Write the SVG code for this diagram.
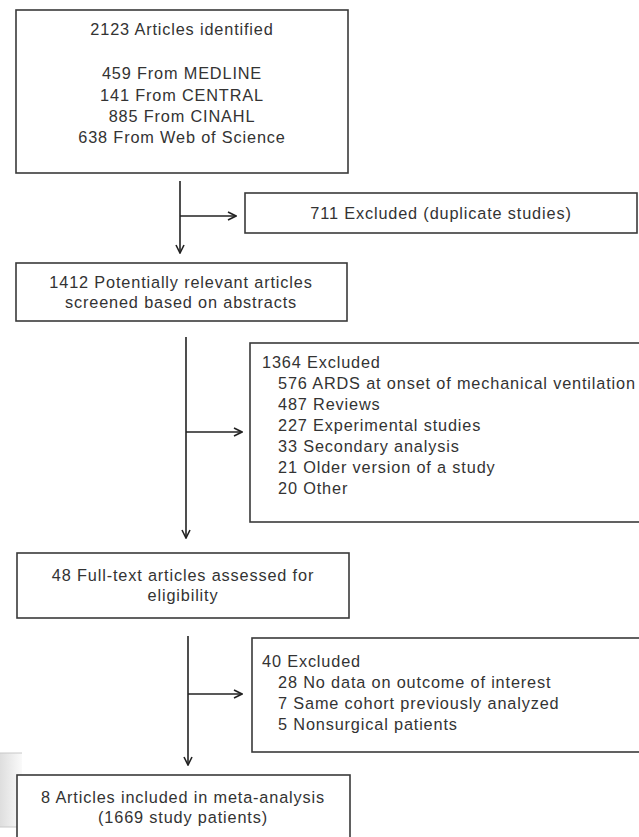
<svg xmlns="http://www.w3.org/2000/svg" width="639" height="837" viewBox="0 0 639 837">
<style>
.box{fill:#fff;stroke:#3a3a3a;stroke-width:1.6}
.t{font-family:"Liberation Sans",Arial,sans-serif;font-size:16.3px;fill:#333;letter-spacing:0.85px}
.c{text-anchor:middle}
.ln{stroke:#222;stroke-width:1.6;fill:none}
</style>
<defs>
<marker id="ah" viewBox="0 0 10 10" refX="9" refY="5" markerWidth="10" markerHeight="10" markerUnits="userSpaceOnUse" orient="auto">
<path d="M1,1 L9,5 L1,9" fill="none" stroke="#222" stroke-width="1.6"/>
</marker>
<linearGradient id="gr" x1="0" y1="0" x2="1" y2="0">
<stop offset="0" stop-color="#dedede"/>
<stop offset="1" stop-color="#fafafa"/>
</linearGradient>
</defs>
<rect width="639" height="837" fill="#fff"/>
<g id="artifact">
<rect x="0" y="753" width="22" height="74" fill="url(#gr)"/>
<line x1="0" y1="753" x2="22" y2="753" stroke="#c8c8c8" stroke-width="1"/>
<line x1="0" y1="827" x2="22" y2="827" stroke="#c8c8c8" stroke-width="1"/>
</g>
<g id="connectors">
<line class="ln" x1="180" y1="181" x2="180" y2="253" marker-end="url(#ah)"/>
<line class="ln" x1="180" y1="216" x2="236" y2="216" marker-end="url(#ah)"/>
<line class="ln" x1="186" y1="337" x2="186" y2="538" marker-end="url(#ah)"/>
<line class="ln" x1="186" y1="432" x2="242" y2="432" marker-end="url(#ah)"/>
<line class="ln" x1="188" y1="636" x2="188" y2="765" marker-end="url(#ah)"/>
<line class="ln" x1="188" y1="694" x2="242" y2="694" marker-end="url(#ah)"/>
</g>
<g id="n1">
<rect class="box" x="16" y="10" width="332" height="163"/>
<text class="t c" x="182" y="35">2123 Articles identified</text>
<text class="t c" x="182" y="79">459 From MEDLINE</text>
<text class="t c" x="182" y="101">141 From CENTRAL</text>
<text class="t c" x="182" y="122">885 From CINAHL</text>
<text class="t c" x="182" y="143">638 From Web of Science</text>
</g>
<g id="n2">
<rect class="box" x="245" y="193" width="392" height="40"/>
<text class="t c" x="441" y="219">711 Excluded (duplicate studies)</text>
</g>
<g id="n3">
<rect class="box" x="16" y="263" width="331" height="58"/>
<text class="t c" x="181" y="288">1412 Potentially relevant articles</text>
<text class="t c" x="181" y="308">screened based on abstracts</text>
</g>
<g id="n4">
<rect class="box" x="250" y="343" width="400" height="179"/>
<text class="t" x="262" y="368">1364 Excluded</text>
<text class="t" x="278" y="389">576 ARDS at onset of mechanical ventilation</text>
<text class="t" x="278" y="410">487 Reviews</text>
<text class="t" x="278" y="431">227 Experimental studies</text>
<text class="t" x="278" y="452">33 Secondary analysis</text>
<text class="t" x="278" y="473">21 Older version of a study</text>
<text class="t" x="278" y="494">20 Other</text>
</g>
<g id="n5">
<rect class="box" x="17" y="553" width="332" height="65"/>
<text class="t c" x="183" y="581">48 Full-text articles assessed for</text>
<text class="t c" x="183" y="601">eligibility</text>
</g>
<g id="n6">
<rect class="box" x="252" y="638" width="400" height="114"/>
<text class="t" x="262" y="667">40 Excluded</text>
<text class="t" x="278" y="688">28 No data on outcome of interest</text>
<text class="t" x="278" y="709">7 Same cohort previously analyzed</text>
<text class="t" x="278" y="730">5 Nonsurgical patients</text>
</g>
<g id="n7">
<rect class="box" x="17" y="775" width="333" height="80"/>
<text class="t c" x="183" y="803">8 Articles included in meta-analysis</text>
<text class="t c" x="183" y="823">(1669 study patients)</text>
</g>
</svg>
